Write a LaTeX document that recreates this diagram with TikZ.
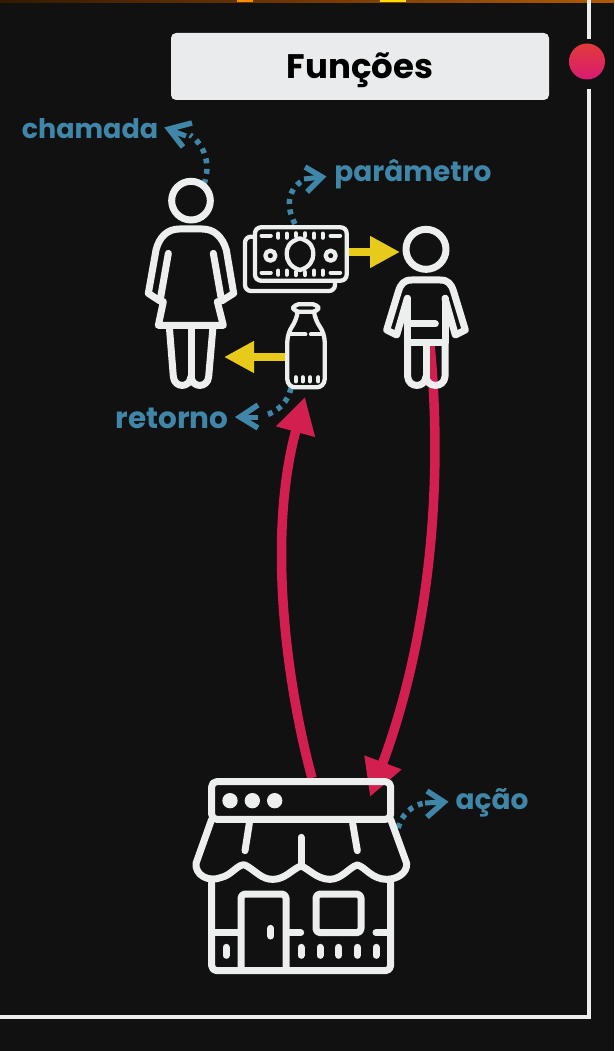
\documentclass[tikz,border=0pt]{standalone}
\usepackage{fontspec}
\setmainfont{Poppins}
\usetikzlibrary{arrows.meta}
\definecolor{bgc}{HTML}{111111}
\definecolor{ink}{HTML}{EDEEEE}
\definecolor{boxc}{HTML}{E9EBEC}
\definecolor{bluec}{HTML}{4086A8}
\definecolor{redc}{HTML}{D21F50}
\definecolor{yelc}{HTML}{E8CB1A}
\definecolor{dota}{HTML}{E23A3A}
\definecolor{dotb}{HTML}{D81B72}
\tikzset{
 icon/.style={draw=ink,line width=7pt,line cap=round,line join=round,fill=none},
 iconthin/.style={draw=ink,line width=4.3pt,line cap=round,line join=round,fill=none},
 pxa/.style={shift={(130,170)},x=0.33333pt,y=-0.33333pt},
 pxb/.style={shift={(180,760)},x=0.33333pt,y=-0.33333pt},
 lab/.style={text=bluec,font=\fontsize{28}{28}\selectfont\bfseries,inner sep=0pt,anchor=center},
 dots/.style={draw=bluec,line width=5.5pt,dash pattern=on 5pt off 5.5pt},
 chev/.style={draw=bluec,line width=5.5pt,line join=miter},
 shaft/.style={draw=bluec,line width=5pt},
 yarrow/.style={draw=yelc,line width=8pt,-{Triangle[length=30pt,width=30pt]}},
 rarrow/.style={draw=redc,line width=9.5pt},
}
\begin{document}
\begin{tikzpicture}[x=1pt,y=-1pt]
\useasboundingbox (0,0) rectangle (614,1051);
\fill[bgc] (0,0) rectangle (614,1051);
% top strip
\shade[left color=black!80!orange,right color=orange!70!black] (0,0) rectangle (614,2.5);
\fill[orange!90!yellow] (237,0) rectangle (253,2.5);
\fill[yellow!80!orange] (380,0) rectangle (406,2.5);
% frame
\draw[ink,line width=4.5pt] (589,0) -- (589,39);
\draw[ink,line width=4.5pt] (589,89) -- (589,1017) -- (0,1017);
% title
\node[fill=boxc,rounded corners=5pt,minimum width=378pt,minimum height=67pt,inner sep=0pt] (title) at (360,66.5) {};
\node[text=black,inner sep=0pt,font=\fontsize{34}{34}\selectfont\bfseries] (titletext) at (360,70) {Funções};
\shade[top color=dota,bottom color=dotb] (587,61.5) circle[radius=18];
% anchors
\coordinate (shopL) at (312,778);
\coordinate (bottleB) at (305,397);
\coordinate (boyLeg) at (430,345);
\coordinate (shopR) at (370,797);
\coordinate (moneyR) at (348,252);
\coordinate (boyHead) at (400,252);
\coordinate (bottleL) at (286,357);
\coordinate (womanLeg) at (224,357);
% red arrows
\draw[rarrow,-{Triangle[length=36pt,width=38pt]}] (shopL) .. controls (288,690) and (266,540) .. (bottleB);
\draw[rarrow,-{Triangle[length=37pt,width=37pt]}] (boyLeg) .. controls (445,500) and (425,650) .. (shopR);
% yellow arrows
\draw[yarrow] (moneyR) -- (boyHead);
\draw[yarrow] (bottleL) -- (womanLeg);
% blue annotations
\draw[dots] (204,184) .. controls (211,165) and (205,145) .. (190,135);
\draw[shaft] (186,136) -- (170,130);
\draw[chev] (192,123) -- (169,129) -- (183,147);
\draw[dots] (295,224) .. controls (285,205) and (288,187) .. (306,179);
\draw[shaft] (304,179) -- (322,177);
\draw[chev] (305,167) -- (322,177) -- (307,192);
\draw[dots] (291,388) .. controls (288,402) and (278,412) .. (263,416);
\draw[shaft] (258,417) -- (241,417);
\draw[chev] (258,405) -- (240,417) -- (258,428);
\draw[dots] (398,828) .. controls (402,814) and (412,805) .. (425,803);
\draw[shaft] (425,803) -- (443,802);
\draw[chev] (427,791) -- (444,802) -- (427,817);
% labels
\node[lab,font=\fontsize{27}{27}\selectfont\bfseries] (chamada) at (90,129) {chamada};
\node[lab] (parametro) at (413,174) {parâmetro};
\node[lab,font=\fontsize{29.5}{29.5}\selectfont\bfseries] (retorno) at (172,418) {retorno};
\node[lab] (acao) at (492,803) {ação};
% woman
\begin{scope}[pxa]
\draw[icon] (183,92) circle[radius=58];
\draw[icon] (115,250) -- (90,393) -- (55,370) -- (78,240) .. controls (88,200) and (113,177) .. (148,177) -- (217,177) .. controls (252,177) and (277,200) .. (289,240) -- (311,370) -- (275,393) -- (250,250);
\draw[icon] (100,395) -- (85,466) -- (280,466) -- (262,395);
\draw[icon] (118,470) -- (130,620) .. controls (133,655) and (180,655) .. (183,620) .. controls (186,655) and (233,655) .. (236,620) -- (249,470);
\draw[icon] (183,470) -- (183,620);
% money
\draw[iconthin,rounded corners=6pt] (375,172) rectangle (650,332);
\draw[iconthin,rounded corners=6pt] (372,200) -- (345,200) -- (345,363) -- (615,363) -- (615,334);
\draw[iconthin] (510,205) .. controls (545,215) and (550,235) .. (550,252) .. controls (550,270) and (540,292) .. (510,300) .. controls (480,292) and (470,270) .. (470,252) .. controls (470,235) and (475,215) .. (510,205) -- cycle;
\draw[iconthin] (421,257) circle[radius=15];
\draw[iconthin] (602,257) circle[radius=15];
\foreach \yy in {197,308}{
 \draw[iconthin] (395,\yy) -- (422,\yy);
 \draw[iconthin] (602,\yy) -- (630,\yy);
 \foreach \xx in {445,470,552,578} \draw[iconthin] (\xx,\yy-6) -- (\xx,\yy+6);
}
\draw[iconthin] (497,190) -- (497,198);
\draw[iconthin] (525,190) -- (525,198);
\draw[iconthin] (497,306) -- (497,315);
\draw[iconthin] (525,306) -- (525,315);
% bottle
\draw[iconthin,rounded corners=5pt] (490,403) rectangle (565,425);
\draw[iconthin,rounded corners=8pt] (503,425) -- (500,450) -- (472,490) -- (472,652) -- (584,652) -- (584,490) -- (555,450) -- (552,425);
\draw[iconthin] (478,493) -- (526,493);
\draw[iconthin] (543,493) -- (572,493);
\foreach \xx in {497,518,540,565} \draw[iconthin] (\xx,622) -- (\xx,634);
% boy
\draw[icon] (888,238) circle[radius=60];
\draw[icon] (832,385) -- (800,495) -- (770,480) -- (805,365) .. controls (812,342) and (822,330) .. (845,330) -- (931,330) .. controls (954,330) and (964,342) .. (971,365) -- (1006,480) -- (976,495) -- (945,385);
\draw[icon] (833,385) -- (833,518) -- (945,518) -- (945,385);
\draw[icon] (842,462) -- (916,462);
\draw[icon] (833,520) -- (833,620) .. controls (836,655) and (885,655) .. (888,620) .. controls (891,655) and (942,655) .. (945,620) -- (945,520);
\draw[icon] (888,520) -- (888,620);
\end{scope}
% shop
\begin{scope}[pxb]
\draw[icon,rounded corners=5pt] (95,178) -- (95,65) -- (632,65) -- (632,178) -- cycle;
\fill[ink] (150,122) circle[radius=23] (217,122) circle[radius=23] (284,122) circle[radius=23];
\draw[icon] (95,178) -- (48,310) .. controls (45,345) and (85,368) .. (125,352) .. controls (155,345) and (175,310) .. (195,315) .. controls (225,330) and (245,360) .. (280,358) .. controls (315,358) and (340,325) .. (363,318) .. controls (385,325) and (410,358) .. (450,358) .. controls (485,358) and (510,320) .. (532,315) .. controls (555,320) and (575,358) .. (620,358) .. controls (650,358) and (682,340) .. (680,310) -- (632,178);
\draw[icon] (208,190) -- (195,272);
\draw[icon] (363,232) -- (363,318);
\draw[icon] (518,190) -- (532,272);
\draw[icon,rounded corners=5pt] (95,368) -- (95,632) -- (632,632) -- (632,368);
\draw[icon,rounded corners=4pt] (183,622) -- (183,402) -- (318,402) -- (318,622);
\draw[icon,rounded corners=4pt] (408,402) rectangle (543,518);
\draw[icon,line cap=butt] (100,518) -- (183,518);
\draw[icon] (322,518) -- (362,518);
\draw[icon] (588,518) -- (628,518);
\draw[icon] (272,505) -- (272,528);
\foreach \xx in {138,363,420,476,532,588} \draw[icon] (\xx,562) -- (\xx,586);
\end{scope}
\end{tikzpicture}
\end{document}
